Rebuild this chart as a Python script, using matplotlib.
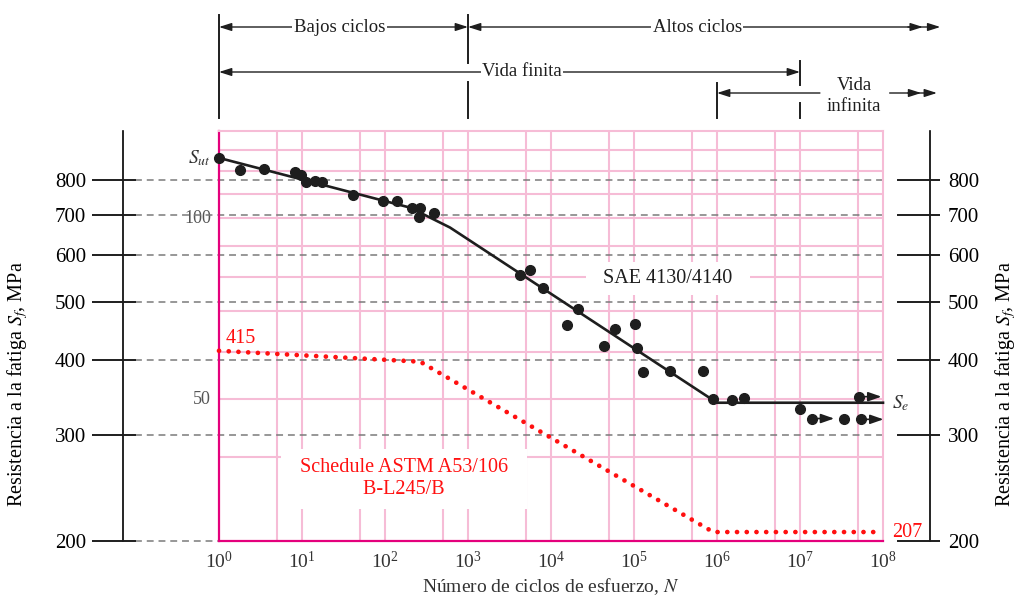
import numpy as np
import matplotlib
matplotlib.use("Agg")
import matplotlib.pyplot as plt
from matplotlib.transforms import blended_transform_factory
from matplotlib.ticker import FixedLocator, NullLocator, LogFormatterMathtext

plt.rcParams['font.family'] = ['Liberation Serif', 'DejaVu Serif']
plt.rcParams['mathtext.fontset'] = 'stix'

# ---------------- data ----------------
KPSI_TO_MPA = 6.895

# SAE 4130/4140 fatigue results (cycles, MPa)
sae_cycles = [1, 1.8, 3.5, 8.2, 9.6, 11.2, 14.3, 17.6, 41, 95, 138, 213, 264, 259, 393,
              4.2e3, 5.6e3, 7.9e3, 1.55e4, 2.1e4, 4.4e4, 5.9e4, 1.03e5, 1.08e5, 1.29e5,
              2.7e5, 6.8e5, 8.9e5, 1.5e6, 2.1e6, 1.0e7, 3.4e7]
sae_stress = [870, 831, 833, 825, 816, 792, 796, 794, 755, 737, 737, 717, 717, 694, 705,
              555, 566, 529, 459, 488, 423, 452, 460, 419, 383,
              384, 384, 345, 344, 346, 332, 320]

# specimens that did not fail (run-outs)
runout_cycles = [1.4e7, 5.5e7, 5.2e7]
runout_stress = [320, 319, 348]

# fitted S-N curve for SAE 4130/4140
sae_fit_cycles = [1, 200, 607, 1e6, 1e8]
sae_fit_stress = [870, 719, 666, 340, 340]

# Schedule ASTM A53/106 B-L245/B estimate
astm_cycles = [1, 265, 9e5, 8.5e7]
astm_stress = [415, 398, 207, 207]

mpa_ticks = [200, 300, 400, 500, 600, 700, 800]
kpsi_grid = [40, 50, 60, 70, 80, 90, 100, 110, 120, 130]
kpsi_labels = [50, 100]
kpsi_top = 140
decades = list(range(0, 9))

# ---------------- layout (pixels) ----------
W, H = 1019, 599
AX_LEFT, AX_RIGHT, AX_BOTTOM = 219, 883, 541
PX_PER_DEC = 600
LEFT_SPINE, RIGHT_SPINE = 123, 930

PINK = '#f6bcd6'
MAGENTA = '#e4007c'
INK = '#1e1e1e'
RED = '#ff1010'
DASH = '#7a7a7a'

ymin, ymax = 200, kpsi_top * KPSI_TO_MPA
ax_top = AX_BOTTOM - PX_PER_DEC * np.log10(ymax / ymin)

fig = plt.figure(figsize=(W / 100, H / 100), dpi=100)
ax = fig.add_axes([AX_LEFT / W, 1 - AX_BOTTOM / H,
                   (AX_RIGHT - AX_LEFT) / W, (AX_BOTTOM - ax_top) / H])
ax.set_xscale('log')
ax.set_yscale('log')
ax.set_xlim(10.0 ** decades[0], 10.0 ** decades[-1])
ax.set_ylim(ymin, ymax)


def fx(px):
    """horizontal pixel -> axes fraction"""
    return (px - AX_LEFT) / (AX_RIGHT - AX_LEFT)


# pink log grid of the original kpsi chart
for k in decades[:-1]:
    for m in (1, 5):
        v = m * 10.0 ** k
        if v > 1:
            ax.axvline(v, color=PINK, lw=1.5, zorder=0.5)
for kp in kpsi_grid:
    ax.axhline(kp * KPSI_TO_MPA, color=PINK, lw=1.5, zorder=0.5)

for side in ('left', 'bottom'):
    ax.spines[side].set_color(MAGENTA)
    ax.spines[side].set_linewidth(1.6)
for side in ('top', 'right'):
    ax.spines[side].set_color(PINK)
    ax.spines[side].set_linewidth(1.5)

# MPa reference lines across the chart
yt = ax.get_yaxis_transform()
for v in mpa_ticks:
    ax.plot([fx(135), 1.0], [v, v], transform=yt, color=DASH, lw=1.1,
            ls=(0, (4.5, 3.2)), clip_on=False, zorder=1)
    ax.plot([fx(LEFT_SPINE), fx(135)], [v, v], transform=yt, color=INK, lw=1.4,
            clip_on=False, zorder=1)
    ax.plot([fx(898), fx(RIGHT_SPINE)], [v, v], transform=yt, color=INK, lw=1.4,
            clip_on=False, zorder=1)

# side MPa scales
secL = ax.secondary_yaxis(fx(LEFT_SPINE))
secL.set_yticks(mpa_ticks, labels=[str(v) for v in mpa_ticks])
secL.yaxis.set_minor_locator(NullLocator())
secL.tick_params(direction='out', length=31 * 0.72, width=1.4, pad=4.3,
                 labelsize=15, color=INK)
secL.spines['left'].set_linewidth(1.2)

secR = ax.secondary_yaxis(fx(RIGHT_SPINE))
secR.set_yticks(mpa_ticks, labels=[str(v) for v in mpa_ticks])
secR.yaxis.set_minor_locator(NullLocator())
secR.tick_params(direction='out', length=10 * 0.72, width=1.4, pad=5.8,
                 labelsize=15, color=INK)
secR.spines['right'].set_linewidth(1.2)

ax.yaxis.set_major_locator(NullLocator())
ax.yaxis.set_minor_locator(NullLocator())

# cycle axis
ax.xaxis.set_major_locator(FixedLocator([10.0 ** k for k in decades]))
ax.xaxis.set_major_formatter(LogFormatterMathtext())
ax.xaxis.set_minor_locator(NullLocator())
ax.tick_params(axis='x', length=0, pad=7, labelsize=14, labelcolor='#333333')
ax.set_xlabel('Número de ciclos de esfuerzo, $N$', fontsize=14, labelpad=3,
              color='#333333')

ylab = 'Resistencia a la fatiga $S_f$, MPa'
fig.text(18 / W, 1 - 384 / H, ylab, rotation=90, ha='center', va='center', fontsize=14.5)
fig.text(1006 / W, 1 - 384 / H, ylab, rotation=90, ha='center', va='center', fontsize=14.5)

# kpsi labels of the original grid
for kp in kpsi_labels:
    ax.text(fx(211), kp * KPSI_TO_MPA, str(kp), transform=yt, ha='right', va='center',
            fontsize=13, color='#555555', zorder=0.8)

# curve labels
ax.text(10 ** 5.41, 548, '  SAE 4130/4140  ', ha='center', va='center', fontsize=14.5,
        color=INK, zorder=2,
        bbox=dict(boxstyle='square,pad=0.35', fc='white', ec='none'))
ax.text(10 ** 2.23, 254, '  Schedule ASTM A53/106  \n  B-L245/B  ', ha='center',
        va='center', fontsize=14.5, color=RED, zorder=2, linespacing=1.25,
        bbox=dict(boxstyle='square,pad=0.45', fc='white', ec='none'))

# curves
ax.plot(astm_cycles, astm_stress, color=RED, lw=3.4, ls=(0, (0.01, 2.05)),
        dash_capstyle='round', zorder=3, clip_on=False)
ax.plot(sae_fit_cycles, sae_fit_stress, color=INK, lw=1.9, zorder=4, clip_on=False,
        solid_joinstyle='round')
ax.plot(sae_cycles, sae_stress, 'o', ms=7, color=INK, zorder=5, clip_on=False)
ax.plot(runout_cycles, runout_stress, 'o', ms=7, color=INK, zorder=5, clip_on=False)
RUNOUT_LEN = 10 ** (22 / 83)
for n, s in zip(runout_cycles, runout_stress):
    ax.annotate('', xy=(n * RUNOUT_LEN, s), xytext=(n, s), zorder=5,
                arrowprops=dict(arrowstyle='-|>,head_length=0.8,head_width=0.28',
                                mutation_scale=10, lw=1.2, color=INK,
                                shrinkA=4, shrinkB=0))

ax.annotate(r'$S_{ut}$', xy=(sae_fit_cycles[0], sae_fit_stress[0]), xytext=(-8, 0),
            textcoords='offset pixels', ha='right', va='center', fontsize=14,
            color='#333333', annotation_clip=False)
ax.annotate(r'$S_e$', xy=(sae_fit_cycles[-1], sae_fit_stress[-1]), xytext=(9, 0),
            textcoords='offset pixels', ha='left', va='center', fontsize=14,
            color='#333333', annotation_clip=False)
ax.annotate(f'{astm_stress[0]:g}', xy=(astm_cycles[0], astm_stress[0]), xytext=(7, 12),
            textcoords='offset pixels', ha='left', va='center', fontsize=14.5,
            color=RED, annotation_clip=False)
ax.annotate(f'{astm_stress[-1]:g}', xy=(astm_cycles[-1], astm_stress[-1]),
            xytext=(15, 0), textcoords='offset pixels', ha='left', va='center',
            fontsize=14.5, color=RED, annotation_clip=False)

# ---------------- life regimes above the chart ----------------
top = blended_transform_factory(ax.transData, fig.transFigure)


def fy(py):
    return 1 - py / H


def vline(n, y0, y1):
    ax.plot([n, n], [fy(y0), fy(y1)], transform=top, color=INK, lw=1.4, clip_on=False)


def arrow(n0, n1, y, style):
    ax.annotate('', xy=(n1, fy(y)), xycoords=top, xytext=(n0, fy(y)), textcoords=top,
                annotation_clip=False, zorder=2,
                arrowprops=dict(arrowstyle=style + ',head_length=0.75,head_width=0.24',
                                mutation_scale=10, lw=1.0, color=INK,
                                shrinkA=0, shrinkB=0))


def label(n, y, s, box=True, **kw):
    kwargs = dict(transform=top, ha='center', va='center', fontsize=13.5, color=INK,
                  zorder=4, clip_on=False)
    if box:
        kwargs['bbox'] = dict(boxstyle='square,pad=0.08', fc='white', ec='none')
    kwargs.update(kw)
    ax.text(n, fy(y), s, **kwargs)


vline(1, 15, 118)
vline(1e3, 15, 63)
vline(1e3, 82, 118)
vline(1e6, 83, 118)
vline(1e7, 61, 85)
vline(1e7, 103, 118)

ROW1, ROW2, ROW3 = 27, 72, 93
arrow(1, 1e3, ROW1, '<|-|>')
label(10 ** 1.45, ROW1, 'Bajos ciclos')
arrow(1e3, 10 ** 8.69, ROW1, '<|-|>')
arrow(10 ** 8.3, 10 ** 8.48, ROW1, '-|>')
label(10 ** 5.76, ROW1, 'Altos ciclos')

arrow(1, 1e7, ROW2, '<|-|>')
label(10 ** 3.65, ROW2, 'Vida finita')

arrow(1e6, 10 ** 7.24, ROW3, '<|-')
label(10 ** 7.65, 96, 'Vida\ninfinita', box=False, linespacing=1.3)
arrow(10 ** 8.08, 10 ** 8.65, ROW3, '-|>')
arrow(10 ** 8.3, 10 ** 8.46, ROW3, '-|>')

fig.savefig('out.png', dpi=100, facecolor='white')
